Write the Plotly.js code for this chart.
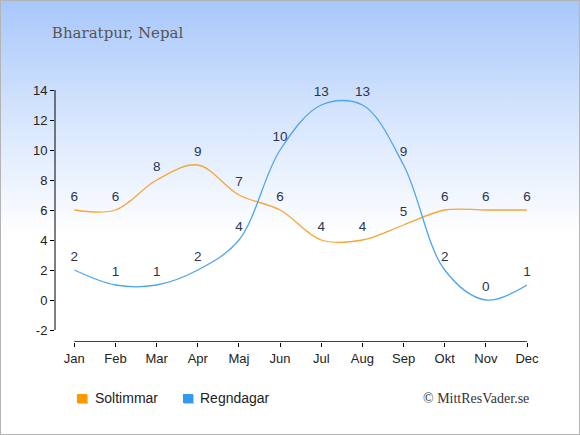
<!DOCTYPE html>
<html>
<head>
<meta charset="utf-8">
<script src="https://cdn.plot.ly/plotly-3.0.1.min.js"></script>
<style>
html,body{margin:0;padding:0;}
#wrap{width:580px;height:435px;box-sizing:border-box;border:1px solid #b4b4b4;
background:linear-gradient(to bottom,#a7c7fb 0px,#d4e4fd 110px,#ffffff 235px,#ffffff 435px);}
#chart{width:578px;height:433px;}
</style>
</head>
<body>
<div id="wrap"><div id="chart"></div></div>
<script>
var months = ["Jan","Feb","Mar","Apr","Maj","Jun","Jul","Aug","Sep","Okt","Nov","Dec"];
var sunHours = [6,6,8,9,7,6,4,4,5,6,6,6];
var rainDays = [2,1,1,2,4,10,13,13,9,2,0,1];
var yTicks = [-2,0,2,4,6,8,10,12,14];
var yTickText = ["-2","0","2","4","6","8","10","12","14"];
var seriesNames = ["Soltimmar","Regndagar"];
var titleText = "Bharatpur, Nepal";
var creditText = "\u00A9 MittResVader.se";

var idx = months.map(function(m,i){return i;});
var sunColor = "#f7a535", rainColor = "#4fa5ee";
var sunLegend = "#ff9900", rainLegend = "#3399ee";
var labelFont = {family:"Liberation Sans, Arial, sans-serif", size:13.5, color:"#2b3450"};

var traces = [
 {x:idx, y:sunHours, text:sunHours.map(String), mode:"lines+markers+text", textposition:"top center",
  textfont:labelFont, marker:{size:8, opacity:0}, line:{color:sunColor, width:1.3, shape:"spline", smoothing:1},
  cliponaxis:false, hoverinfo:"none", showlegend:false, name:seriesNames[0]},
 {x:idx, y:rainDays, text:rainDays.map(String), mode:"lines+markers+text", textposition:"top center",
  textfont:labelFont, marker:{size:8, opacity:0}, line:{color:rainColor, width:1.3, shape:"spline", smoothing:1},
  cliponaxis:false, hoverinfo:"none", showlegend:false, name:seriesNames[1]}
];

var x0 = -0.47, yBottom = -2.8;
var lx = function(px){return (px-55)/472;};
var ly = function(py){return (342-py)/252;};
var layout = {
 width:578, height:433,
 margin:{l:54, r:52, t:89, b:92, pad:0},
 paper_bgcolor:"rgba(0,0,0,0)", plot_bgcolor:"rgba(0,0,0,0)",
 showlegend:false,
 title:{text:titleText, x:0.088, xanchor:"left", y:0.927, yanchor:"middle",
  font:{family:"DejaVu Serif, serif", size:15, color:"#555555"}},
 xaxis:{range:[x0,11], tickvals:idx, ticktext:months, showgrid:false, zeroline:false,
  showline:false, ticks:"outside", ticklen:4, tickcolor:"#000", tickwidth:1,
  tickfont:{family:"Liberation Sans, Arial, sans-serif", size:13, color:"#222"}, fixedrange:true},
 yaxis:{range:[yBottom,14], tickvals:yTicks, ticktext:yTickText, showgrid:false, zeroline:false, showline:false,
  ticks:"outside", ticklen:4, tickcolor:"#000", tickwidth:1,
  tickfont:{family:"Liberation Sans, Arial, sans-serif", size:13, color:"#222"}, fixedrange:true},
 shapes:[
  {type:"line", xref:"paper", yref:"y", x0:0, x1:0, y0:yTicks[0], y1:yTicks[yTicks.length-1], line:{color:"#000", width:1}},
  {type:"line", xref:"x", yref:"y", x0:0, x1:11, y0:yBottom, y1:yBottom, line:{color:"#000", width:1.3}},
  {type:"rect", xref:"paper", yref:"paper", x0:lx(78), x1:lx(88), y0:ly(395), y1:ly(404), fillcolor:"#c8c8c8", line:{width:0}},
  {type:"rect", xref:"paper", yref:"paper", x0:lx(77), x1:lx(87), y0:ly(394), y1:ly(403), fillcolor:sunLegend, line:{width:0}},
  {type:"rect", xref:"paper", yref:"paper", x0:lx(184), x1:lx(194), y0:ly(395), y1:ly(404), fillcolor:"#c8c8c8", line:{width:0}},
  {type:"rect", xref:"paper", yref:"paper", x0:lx(183), x1:lx(193), y0:ly(394), y1:ly(403), fillcolor:rainLegend, line:{width:0}}
 ],
 annotations:[
  {xref:"paper", yref:"paper", x:lx(93), y:ly(398), xanchor:"left", yanchor:"middle", showarrow:false,
   text:seriesNames[0], font:{family:"Liberation Sans, Arial, sans-serif", size:14, color:"#222"}},
  {xref:"paper", yref:"paper", x:lx(198), y:ly(398), xanchor:"left", yanchor:"middle", showarrow:false,
   text:seriesNames[1], font:{family:"Liberation Sans, Arial, sans-serif", size:14, color:"#222"}},
  {xref:"paper", yref:"paper", x:lx(531), y:ly(398), xanchor:"right", yanchor:"middle", showarrow:false,
   text:creditText, font:{family:"Liberation Serif, serif", size:14, color:"#333"}}
 ]
};
Plotly.newPlot("chart", traces, layout, {displayModeBar:false, staticPlot:true});
</script>
</body>
</html>
